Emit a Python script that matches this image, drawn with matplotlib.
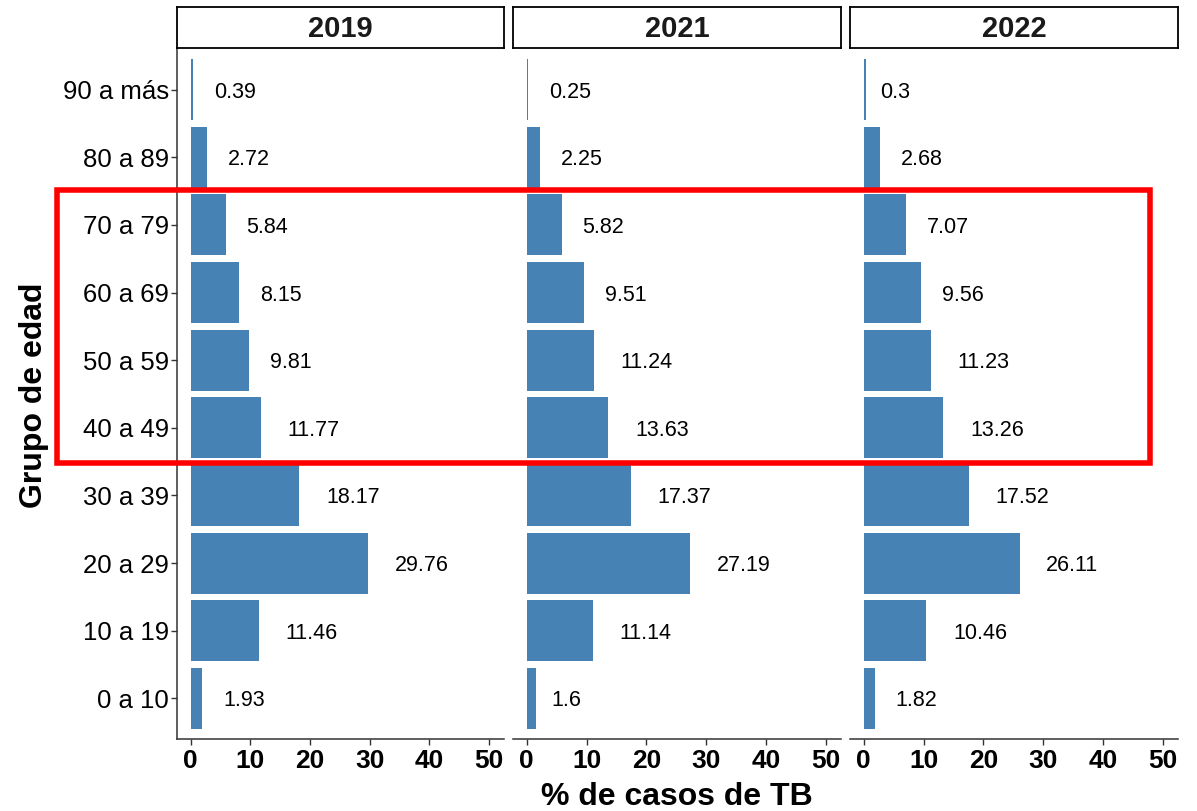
import matplotlib
matplotlib.use("Agg")
import matplotlib.pyplot as plt
from matplotlib.patches import Rectangle
from matplotlib.transforms import ScaledTranslation

plt.rcParams['font.family'] = ['Liberation Sans', 'DejaVu Sans']

categories = ["0 a 10", "10 a 19", "20 a 29", "30 a 39", "40 a 49",
              "50 a 59", "60 a 69", "70 a 79", "80 a 89", "90 a más"]
years = ["2019", "2021", "2022"]
vals_2019 = [1.93, 11.46, 29.76, 18.17, 11.77, 9.81, 8.15, 5.84, 2.72, 0.39]
vals_2021 = [1.6, 11.14, 27.19, 17.37, 13.63, 11.24, 9.51, 5.82, 2.25, 0.25]
vals_2022 = [1.82, 10.46, 26.11, 17.52, 13.26, 11.23, 9.56, 7.07, 2.68, 0.3]
series = [vals_2019, vals_2021, vals_2022]
xticks = [0, 10, 20, 30, 40, 50]

W, H = 1197, 811
DPI = 100
fig = plt.figure(figsize=(W / DPI, H / DPI), dpi=DPI)

def px_rect(x0, y0, x1, y1):
    return [x0 / W, 1 - y1 / H, (x1 - x0) / W, (y1 - y0) / H]

panel_x = [(177, 504), (513, 841), (850, 1178)]
ptop, pbot = 49, 739
stop, sbot = 7, 48
bar_color = "#4682B4"
axis_col = "#333333"

texts = []
axes = []
for i, (yr, vals) in enumerate(zip(years, series)):
    x0, x1 = panel_x[i]
    ax = fig.add_axes(px_rect(x0, ptop, x1, pbot))
    axes.append(ax)
    ypos = list(range(len(categories)))
    ax.barh(ypos, vals, height=0.9, color=bar_color, edgecolor='none', linewidth=0)
    ax.set_xlim(-2.3, 52.5)
    ax.set_ylim(-0.6, len(categories) - 0.4)
    ax.set_xticks(xticks)
    ax.set_xticklabels([str(t) for t in xticks], fontsize=19, fontweight='bold', color='black')
    for s in ['top', 'right']:
        ax.spines[s].set_visible(False)
    ax.spines['bottom'].set_color(axis_col)
    ax.spines['bottom'].set_linewidth(1.1)
    ax.tick_params(axis='x', length=4, width=1.0, color=axis_col, pad=3)
    if i == 0:
        ax.spines['left'].set_color(axis_col)
        ax.spines['left'].set_linewidth(1.1)
        ax.set_yticks(ypos)
        ax.set_yticklabels(categories, fontsize=18.5, color='black')
        ax.tick_params(axis='y', length=4, width=1.0, color=axis_col, pad=2)
    else:
        ax.spines['left'].set_visible(False)
        ax.set_yticks([])
    for y, v in zip(ypos, vals):
        t = ax.text(v, y, f"{v:g}", ha='left', va='center', fontsize=15.5, color='black')
        texts.append((ax, t))

    # strip
    sax = fig.add_axes(px_rect(x0, stop, x1, sbot))
    sax.set_xticks([]); sax.set_yticks([])
    sax.set_facecolor('white')
    for s in sax.spines.values():
        s.set_color('black'); s.set_linewidth(1.3)
    sax.text(0.5, 0.47, yr, ha='center', va='center', fontsize=21, fontweight='bold',
             color='#1a1a1a', transform=sax.transAxes)

fig.text(677 / W, 1 - 797 / H, "% de casos de TB", ha='center', va='center',
         fontsize=23, fontweight='bold')
fig.text(34 / W, 1 - 395 / H, "Grupo de edad", ha='center', va='center',
         fontsize=23, fontweight='bold', rotation=90)

# highlight rectangle
rx0, ry0, rx1, ry1 = 57, 190, 1150, 463
fig.patches.append(Rectangle((rx0 / W, 1 - ry1 / H), (rx1 - rx0) / W, (ry1 - ry0) / H,
                             fill=False, edgecolor='#FF0000', linewidth=4,
                             transform=fig.transFigure, figure=fig, zorder=10))

# offset value labels by half their width (hjust = -0.5)
fig.canvas.draw()
renderer = fig.canvas.get_renderer()
for ax, t in texts:
    w = t.get_window_extent(renderer).width
    t.set_transform(ax.transData + ScaledTranslation(w / 2 / DPI, -2.5 / DPI, fig.dpi_scale_trans))

fig.savefig("out.png", dpi=DPI)
